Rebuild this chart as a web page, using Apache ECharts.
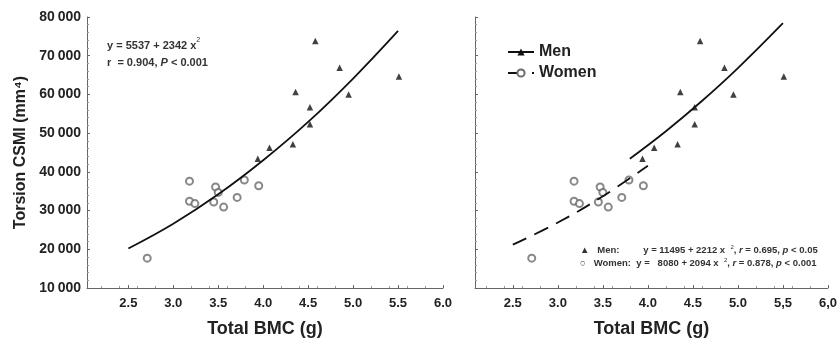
<!DOCTYPE html>
<html>
<head>
  <meta charset="UTF-8">
  <title>Torsion CSMI vs Total BMC</title>
  <script src="https://cdn.jsdelivr.net/npm/echarts@6/dist/echarts.min.js"></script>
  <style>
    body { margin: 0; background: #fff; }
    #main { width: 840px; height: 344px; }
  </style>
</head>
<body>
  <div id="main"></div>
  <script type="text/javascript">
    // points: [Total BMC (g), Torsion CSMI (mm4)]
    var women = [
      [2.71, 17700], [3.18, 37600], [3.18, 32400], [3.24, 31800], [3.45, 32200],
      [3.47, 36100], [3.50, 34700], [3.56, 30900], [3.71, 33400], [3.79, 37900],
      [3.95, 36400]
    ];
    var men = [
      [3.94, 43400], [4.07, 46200], [4.33, 47100], [4.36, 60600], [4.52, 52300],
      [4.52, 56700], [4.58, 73800], [4.85, 66900], [4.95, 60000], [5.51, 64600]
    ];
    // fitted curves
    var fitAll = [[2.5, 20200], [3.0, 26600], [3.5, 34200], [4.0, 43000], [4.5, 52900], [5.0, 64100], [5.5, 76400]];
    var fitMen = [[3.8, 43400], [4.2, 50500], [4.6, 58300], [5.0, 66800], [5.5, 78400]];
    var fitWomen = [[2.5, 21200], [3.0, 26900], [3.5, 33700], [4.0, 41600]];

    var xTicks = [2.5, 3.0, 3.5, 4.0, 4.5, 5.0, 5.5, 6.0];
    var leftXLabels = ['2.5', '3.0', '3.5', '4.0', '4.5', '5.0', '5.5', '6.0'];
    var rightXLabels = ['2.5', '3.0', '3.5', '4.0', '4.5', '5.0', '5,5', '6,0'];

    var axisColor = '#666';
    var boldFont = '"Liberation Sans", Arial, sans-serif';

    function xAxis(gridIndex, min, labels) {
      return {
        type: 'value', gridIndex: gridIndex, min: min, max: 6.0,
        name: 'Total BMC (g)', nameLocation: 'middle', nameGap: 32,
        nameTextStyle: { fontFamily: boldFont, fontWeight: 'bold', fontSize: 18, color: '#222' },
        axisLine: { lineStyle: { color: axisColor } },
        axisTick: { show: true, inside: true, length: 3, customValues: xTicks, lineStyle: { color: axisColor } },
        minorTick: { show: true, splitNumber: 5, length: 2, lineStyle: { color: '#999' } },
        splitLine: { show: false },
        axisLabel: {
          customValues: xTicks, margin: 9,
          fontFamily: boldFont, fontWeight: 'bold', fontSize: 13, color: '#222',
          formatter: function (v) { return labels[xTicks.indexOf(Math.round(v * 10) / 10)]; }
        }
      };
    }

    function yAxis(gridIndex, showLabels) {
      return {
        type: 'value', gridIndex: gridIndex, min: 10000, max: 80000, interval: 10000,
        name: showLabels ? 'Torsion CSMI (mm\u2074)' : '', nameLocation: 'middle', nameGap: 58,
        nameTextStyle: { fontFamily: boldFont, fontWeight: 'bold', fontSize: 16, color: '#222' },
        axisLine: { show: true, lineStyle: { color: axisColor } },
        axisTick: { show: true, inside: true, length: 3, lineStyle: { color: axisColor } },
        minorTick: { show: true, splitNumber: 5, length: 2, lineStyle: { color: '#999' } },
        splitLine: { show: false },
        axisLabel: {
          show: showLabels, margin: 6,
          fontFamily: boldFont, fontWeight: 'bold', fontSize: 14, color: '#222',
          formatter: function (v) { return String(v).replace(/(\d\d)(\d{3})$/, '$1\u2009$2'); }
        }
      };
    }

    var womenStyle = { color: '#6a6a6a', borderWidth: 1.2 };
    var menStyle = { color: '#111' };

    var myChart = echarts.init(document.getElementById('main'));

    var option = {
      animation: false,
      grid: [
        { left: 87, right: 397, top: 17, bottom: 56 },
        { left: 475, right: 12, top: 17, bottom: 56 }
      ],
      xAxis: [xAxis(0, 2.04, leftXLabels), xAxis(1, 2.08, rightXLabels)],
      yAxis: [yAxis(0, true), yAxis(1, false)],
      legend: {
        data: ['Men', 'Women'], orient: 'vertical', left: 502, top: 39,
        itemWidth: 26, itemHeight: 9, itemGap: 5,
        textStyle: { fontFamily: boldFont, fontWeight: 'bold', fontSize: 16, color: '#222' }
      },
      series: [
        { type: 'scatter', xAxisIndex: 0, yAxisIndex: 0, symbol: 'emptyCircle', symbolSize: 7, itemStyle: womenStyle, data: women },
        { type: 'scatter', xAxisIndex: 0, yAxisIndex: 0, symbol: 'triangle', symbolSize: 6.5, itemStyle: menStyle, data: men },
        { type: 'line', xAxisIndex: 0, yAxisIndex: 0, smooth: 0.4, showSymbol: false, symbol: 'none',
          lineStyle: { color: '#111', width: 1.8 }, data: fitAll },

        { type: 'scatter', xAxisIndex: 1, yAxisIndex: 1, symbol: 'emptyCircle', symbolSize: 7, itemStyle: womenStyle, data: women },
        { type: 'scatter', xAxisIndex: 1, yAxisIndex: 1, symbol: 'triangle', symbolSize: 6.5, itemStyle: menStyle, data: men },
        { name: 'Men', type: 'line', xAxisIndex: 1, yAxisIndex: 1, smooth: 0.4, showSymbol: false, symbol: 'triangle',
          itemStyle: { color: '#111' }, lineStyle: { color: '#111', width: 1.8 }, data: fitMen },
        { name: 'Women', type: 'line', xAxisIndex: 1, yAxisIndex: 1, smooth: 0.4, showSymbol: false, symbol: 'emptyCircle',
          itemStyle: { color: '#6a6a6a', borderWidth: 1.2 }, lineStyle: { color: '#111', width: 1.8, type: [15, 9] }, data: fitWomen }
      ],
      graphic: [
        { type: 'text', left: 107, top: 37, style: {
            text: '{a|y = 5537 + 2342 x}{s|2}\n{a|r  = 0.904, }{i|P}{a| < 0.001}',
            rich: {
              a: { fontFamily: boldFont, fontSize: 11, fontWeight: 'bold', fill: '#333', lineHeight: 17 },
              i: { fontFamily: boldFont, fontSize: 11, fontWeight: 'bold', fontStyle: 'italic', fill: '#333', lineHeight: 17 },
              s: { fontFamily: boldFont, fontSize: 7, fill: '#333', verticalAlign: 'top', lineHeight: 17 }
            } } },
        { type: 'text', left: 580, top: 244, style: {
            text: '{a|\u25B2   Men:         y = 11495 + 2212 x  }{s|2}{a|, }{i|r}{a| = 0.695, }{i|p}{a| < 0.05}\n' +
                  '{a|\u25CB   Women:  y =   8080 + 2094 x  }{s|2}{a|, }{i|r}{a| = 0.878, }{i|p}{a| < 0.001}',
            rich: {
              a: { fontFamily: boldFont, fontSize: 9.5, fontWeight: 'bold', fill: '#333', lineHeight: 13 },
              i: { fontFamily: boldFont, fontSize: 9.5, fontWeight: 'bold', fontStyle: 'italic', fill: '#333', lineHeight: 13 },
              s: { fontFamily: boldFont, fontSize: 6, fill: '#333', verticalAlign: 'top', lineHeight: 13 }
            } } }
      ]
    };

    myChart.setOption(option);
  </script>
</body>
</html>
